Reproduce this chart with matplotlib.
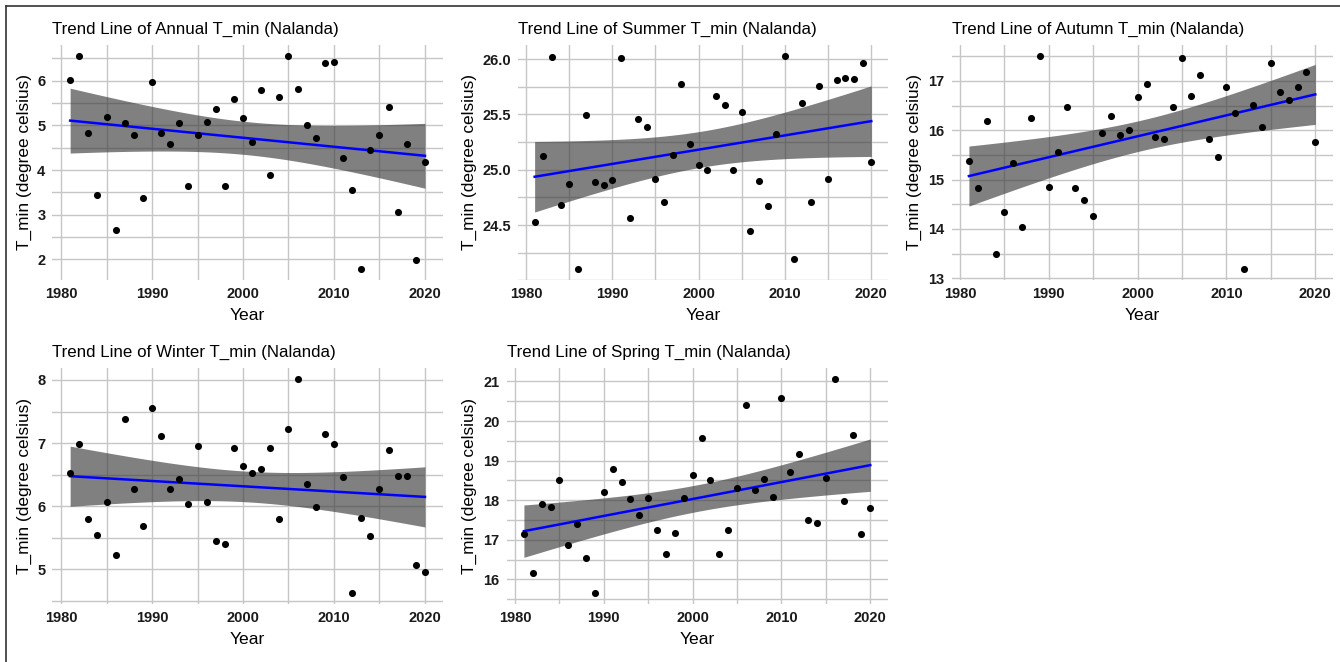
import numpy as np
import matplotlib
matplotlib.use("Agg")
import matplotlib.pyplot as plt
from matplotlib.lines import Line2D

plt.rcParams['font.family'] = ['Liberation Sans', 'DejaVu Sans']

years = list(range(1981, 2021))

annual = [6.02, 6.55, 4.84, 3.45, 5.19, 2.66, 5.06, 4.79, 3.37, 5.97,
          4.82, 4.58, 5.05, 3.65, 4.79, 5.08, 5.37, 3.65, 5.58, 5.16,
          4.63, 5.79, 3.89, 5.63, 6.56, 5.82, 5.00, 4.71, 6.39, 6.42,
          4.27, 3.55, 1.78, 4.45, 4.79, 5.42, 3.07, 4.58, 1.98, 4.19]

summer = [24.53, 25.12, 26.02, 24.68, 24.87, 24.10, 25.49, 24.89, 24.86, 24.91,
          26.01, 24.56, 25.46, 25.39, 24.92, 24.71, 25.13, 25.77, 25.23, 25.04,
          25.00, 25.67, 25.58, 25.00, 25.52, 24.45, 24.90, 24.67, 25.32, 26.03,
          24.19, 25.60, 24.71, 25.76, 24.92, 25.81, 25.83, 25.82, 25.96, 25.07]

autumn = [15.38, 14.83, 16.19, 13.49, 14.35, 15.33, 14.04, 16.24, 17.51, 14.85,
          15.56, 16.46, 14.83, 14.58, 14.27, 15.95, 16.29, 15.91, 16.01, 16.68,
          16.94, 15.86, 15.82, 16.46, 17.47, 16.70, 17.11, 15.82, 15.45, 16.87,
          16.34, 13.18, 16.51, 16.07, 17.37, 16.77, 16.61, 16.87, 17.18, 15.76]

winter = [6.53, 6.99, 5.79, 5.55, 6.07, 5.22, 7.38, 6.28, 5.68, 7.55,
          7.12, 6.28, 6.43, 6.03, 6.95, 6.07, 5.45, 5.40, 6.92, 6.63,
          6.53, 6.59, 6.93, 5.79, 7.23, 8.02, 6.35, 5.99, 7.14, 6.99,
          6.46, 4.62, 5.81, 5.52, 6.28, 6.89, 6.48, 6.48, 5.07, 4.96]

spring = [17.15, 16.16, 17.90, 17.84, 18.50, 16.88, 17.39, 16.55, 15.65, 18.20,
          18.80, 18.47, 18.02, 17.63, 18.05, 17.24, 16.64, 17.18, 18.05, 18.64,
          19.57, 18.50, 16.64, 17.24, 18.32, 20.41, 18.26, 18.53, 18.08, 20.59,
          18.71, 19.18, 17.51, 17.42, 18.56, 21.07, 17.99, 19.64, 17.15, 17.81]

seasons = ["Annual", "Summer", "Autumn", "Winter", "Spring"]
series = [annual, summer, autumn, winter, spring]
yticks = [[2, 3, 4, 5, 6], [24.5, 25.0, 25.5, 26.0], [13, 14, 15, 16, 17],
          [5, 6, 7, 8], [16, 17, 18, 19, 20, 21]]
yfmt = ["{:.0f}", "{:.1f}", "{:.0f}", "{:.0f}", "{:.0f}"]

W, H = 1340, 662
fig = plt.figure(figsize=(W / 100, H / 100), dpi=100)

# panel boxes in pixels: left, right, top, bottom
boxes = [(52.4, 442.7, 45, 280), (517.8, 888.1, 45, 280), (951.6, 1332.6, 45, 280),
         (52.4, 442.7, 368, 604), (506.6, 887.6, 368, 604)]
ylab_x = [24, 469, 914, 24, 469]

t_crit = 2.024  # t(0.975, df=38)
grid_c = '#c6c6c6'

for i in range(5):
    l, r, t, b = boxes[i]
    ax = fig.add_axes([l / W, 1 - b / H, (r - l) / W, (b - t) / H])
    x = np.array(years, dtype=float)
    y = np.array(series[i])

    # linear fit + 95% confidence band
    slope, icpt = np.polyfit(x, y, 1)
    n = len(x)
    resid = y - (icpt + slope * x)
    s = np.sqrt(np.sum(resid ** 2) / (n - 2))
    sxx = np.sum((x - x.mean()) ** 2)
    xg = np.linspace(x.min(), x.max(), 80)
    yg = icpt + slope * xg
    se = s * np.sqrt(1 / n + (xg - x.mean()) ** 2 / sxx)
    lo, hi = yg - t_crit * se, yg + t_crit * se

    ymin = min(y.min(), lo.min())
    ymax = max(y.max(), hi.max())
    pad = (ymax - ymin) * 0.05
    ax.set_ylim(ymin - pad, ymax + pad)
    ax.set_xlim(x.min() - 0.05 * 39, x.max() + 0.05 * 39)

    step = yticks[i][1] - yticks[i][0]
    minor = np.arange(yticks[i][0] - step * 1.5, yticks[i][-1] + step * 1.6, step / 2)
    for v in minor:
        ax.axhline(v, color=grid_c, lw=1.0, zorder=0)
    for v in range(1980, 2021, 5):
        ax.axvline(v, color=grid_c, lw=1.0, zorder=0)

    ax.fill_between(xg, lo, hi, color='#333333', alpha=0.62, lw=0, zorder=2)
    ax.plot(xg, yg, color='#0000ff', lw=1.8, zorder=3)
    ax.scatter(x, y, s=26, color='black', lw=0, zorder=4)

    ax.set_xticks([1980, 1990, 2000, 2010, 2020])
    ax.set_yticks(yticks[i])
    ax.set_yticklabels([yfmt[i].format(v) for v in yticks[i]])
    ax.tick_params(length=0, labelsize=10.5, pad=5, labelcolor='#1a1a1a')
    for lab in ax.get_xticklabels() + ax.get_yticklabels():
        lab.set_fontweight('bold')
    for sp in ax.spines.values():
        sp.set_visible(False)
    ax.set_facecolor('none')

    ax.set_title("Trend Line of " + seasons[i] + " T_min (Nalanda)", loc='left',
                 fontsize=12.2, pad=8, color='black')
    ax.set_xlabel("Year", fontsize=12.6, labelpad=5)
    fig.text(ylab_x[i] / W, 1 - (t + b) / 2 / H, "T_min (degree celsius)",
             rotation=90, fontsize=12.4, ha='center', va='center')

# outer frame on left and top
fig.add_artist(Line2D([6 / W, 6 / W], [0, 1 - 6 / H], color='#333333', lw=1.2))
fig.add_artist(Line2D([6 / W, 1], [1 - 6 / H, 1 - 6 / H], color='#333333', lw=1.2))

fig.savefig("out.png", dpi=100)
